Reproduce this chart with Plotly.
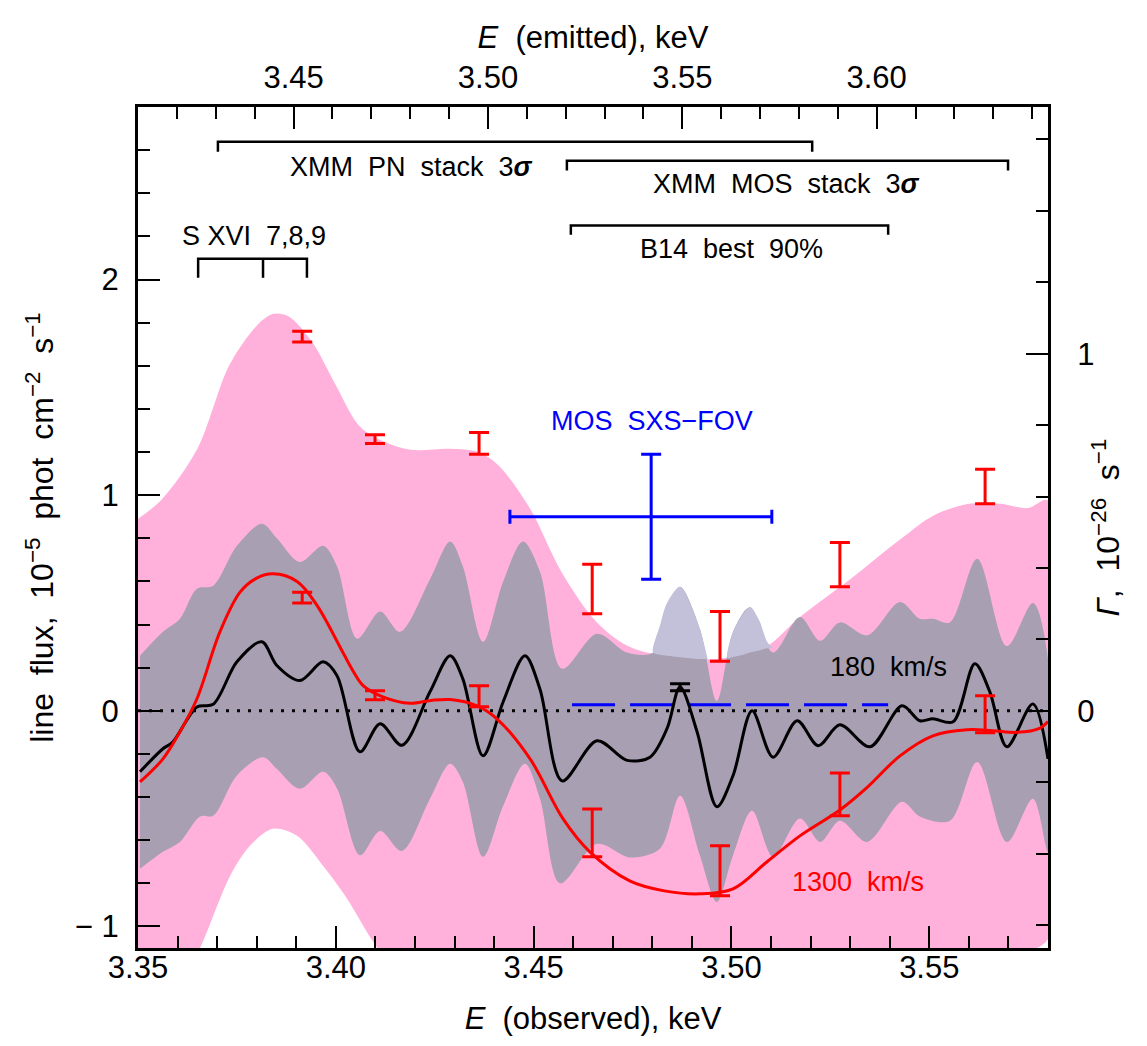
import plotly.graph_objects as go

Z1 = 1.0179          # (1+z): emitted = observed * Z1
GSCALE = 1.656       # flux units per Gamma unit (right axis)

# ---- 1300 km/s 3-sigma band (pink) ----
pink_hi_x = [3.350, 3.356, 3.365, 3.373, 3.380, 3.384, 3.388, 3.394, 3.400, 3.406, 3.412, 3.419,
             3.429, 3.436, 3.441, 3.449, 3.457, 3.466, 3.4751, 3.492, 3.500, 3.509, 3.517, 3.530,
             3.543, 3.551, 3.560, 3.568, 3.575, 3.580]
pink_hi_y = [0.89, 0.98, 1.215, 1.60, 1.786, 1.84, 1.83, 1.71, 1.51, 1.32, 1.25, 1.21,
             1.215, 1.20, 1.14, 0.94, 0.645, 0.41, 0.29, 0.24, 0.25, 0.30, 0.43, 0.61,
             0.80, 0.905, 0.96, 0.96, 0.94, 0.975]
pink_lo_x = [3.350, 3.362, 3.3657, 3.3733, 3.3783, 3.3841, 3.3902, 3.3968, 3.4028, 3.4094, 3.415,
             3.430, 3.460, 3.490, 3.520, 3.550, 3.570, 3.580]
pink_lo_y = [-1.55, -1.22, -1.10, -0.765, -0.626, -0.547, -0.58, -0.72, -0.87, -1.07, -1.2,
             -1.3, -1.6, -1.9, -1.6, -1.25, -1.13, -1.06]

# ---- 180 km/s band (grey) ----
grey_hi_x = [3.3505, 3.3563, 3.3606, 3.3649, 3.3690, 3.3750, 3.3813, 3.3851, 3.3909, 3.3968, 3.4003,
             3.4054, 3.4112, 3.4162, 3.4238, 3.4289, 3.4321, 3.4372, 3.4423, 3.4473, 3.4516, 3.4572,
             3.4660, 3.4736, 3.4802, 3.4837, 3.4870, 3.4920, 3.4963, 3.5004, 3.5047, 3.5105, 3.5173,
             3.5224, 3.5274, 3.5343, 3.5426, 3.5476, 3.5509, 3.5552, 3.5621, 3.5696, 3.5762, 3.5800]
grey_hi_y = [0.255, 0.366, 0.427, 0.566, 0.58, 0.765, 0.867, 0.80, 0.69, 0.765, 0.67,
             0.334, 0.46, 0.366, 0.61, 0.785, 0.67, 0.32, 0.60, 0.785, 0.645, 0.195,
             0.357, 0.27, 0.27, 0.45, 0.575, 0.38, 0.045, 0.366, 0.48, 0.27, 0.435,
             0.325, 0.41, 0.35, 0.505, 0.427, 0.427, 0.41, 0.705, 0.30, 0.50, 0.24]
grey_lo_x = [3.3505, 3.3563, 3.3606, 3.3657, 3.3690, 3.3750, 3.3816, 3.3851, 3.3909, 3.3968, 3.4003,
             3.4061, 3.4112, 3.4167, 3.4238, 3.4289, 3.4321, 3.4372, 3.4423, 3.4478, 3.4516, 3.4567,
             3.4660, 3.4744, 3.4819, 3.4870, 3.4920, 3.4963, 3.5004, 3.5052, 3.5105, 3.5173, 3.5224,
             3.5274, 3.5343, 3.5431, 3.5476, 3.5552, 3.5621, 3.5696, 3.5762, 3.5800]
grey_lo_y = [-0.733, -0.654, -0.608, -0.49, -0.487, -0.30, -0.215, -0.27, -0.362, -0.283, -0.36,
             -0.67, -0.557, -0.65, -0.408, -0.246, -0.33, -0.677, -0.44, -0.246, -0.408, -0.80,
             -0.617, -0.68, -0.64, -0.394, -0.67, -0.886, -0.67, -0.464, -0.677, -0.50, -0.608,
             -0.51, -0.608, -0.422, -0.49, -0.51, -0.237, -0.608, -0.408, -0.654]

# parts of the grey band that stick out above the pink band
lav1_x = [3.4802, 3.4820, 3.4837, 3.4870, 3.4895, 3.4920, 3.4940]
lav1_hi = [0.27, 0.40, 0.50, 0.575, 0.50, 0.38, 0.24]
lav1_lo = [0.27, 0.26, 0.255, 0.248, 0.244, 0.24, 0.24]
lav2_x = [3.4990, 3.5004, 3.5030, 3.5047, 3.5070, 3.5090, 3.5105]
lav2_hi = [0.245, 0.366, 0.45, 0.48, 0.42, 0.32, 0.29]
lav2_lo = [0.245, 0.25, 0.26, 0.27, 0.28, 0.29, 0.29]

# ---- best-fit line flux curves ----
black_x = [3.3505, 3.3563, 3.3588, 3.3649, 3.3690, 3.3750, 3.3813, 3.3851, 3.3909, 3.3968, 3.4003,
           3.4061, 3.4112, 3.4167, 3.4238, 3.4289, 3.4321, 3.4372, 3.4423, 3.4478, 3.4516, 3.4572,
           3.4660, 3.4736, 3.4794, 3.4837, 3.4870, 3.4913, 3.4963, 3.5004, 3.5052, 3.5105, 3.5166,
           3.5219, 3.5274, 3.5350, 3.5431, 3.5476, 3.5509, 3.5560, 3.5615, 3.5653, 3.5696, 3.5762,
           3.5800]
black_y = [-0.283, -0.176, -0.145, 0.018, 0.03, 0.227, 0.32, 0.21, 0.14, 0.227, 0.163,
           -0.19, -0.06, -0.16, 0.088, 0.255, 0.148, -0.209, 0.042, 0.255, 0.10, -0.325,
           -0.139, -0.23, -0.215, -0.083, 0.11, -0.097, -0.445, -0.30, 0.0, -0.215, -0.046,
           -0.162, -0.065, -0.167, 0.023, -0.046, -0.037, -0.051, 0.218, 0.088, -0.167, 0.032,
           -0.223]
red_x = [3.3505, 3.3563, 3.3606, 3.3649, 3.3707, 3.3758, 3.3800, 3.3841, 3.3902, 3.3952, 3.4018,
         3.4045, 3.4069, 3.4119, 3.4187, 3.4240, 3.4289, 3.4357, 3.4407, 3.4491, 3.4574, 3.4642,
         3.4744, 3.4830, 3.4920, 3.5004, 3.5090, 3.5173, 3.5274, 3.5343, 3.5426, 3.5509, 3.5595,
         3.5660, 3.5722, 3.5780, 3.5800]
red_y = [-0.33, -0.223, -0.097, 0.056, 0.366, 0.55, 0.615, 0.635, 0.60, 0.49, 0.27,
         0.18, 0.117, 0.065, 0.035, 0.048, 0.052, 0.023, -0.037, -0.223, -0.50, -0.654,
         -0.79, -0.835, -0.849, -0.826, -0.70, -0.58, -0.46, -0.355, -0.209, -0.116, -0.088,
         -0.092, -0.100, -0.080, -0.050]

# ---- error bars (low, high) ----
err_x = [3.3915, 3.4099, 3.4362, 3.4648, 3.4971, 3.5274, 3.5641]
red_up_lo = [1.71, 1.24, 1.19, 0.45, 0.23, 0.575, 0.96]
red_up_hi = [1.76, 1.28, 1.29, 0.68, 0.46, 0.78, 1.12]
red_dn_lo = [0.50, 0.051, 0.019, -0.677, -0.858, -0.487, -0.102]
red_dn_hi = [0.55, 0.093, 0.116, -0.455, -0.626, -0.288, 0.07]
blk_err_x = [3.4870]
blk_err_lo = [0.093]
blk_err_hi = [0.125]

# MOS SXS-FOV measurement
mos_x, mos_y = 3.4797, 0.90
mos_xerr_minus, mos_xerr_plus = 0.0357, 0.0305
mos_yerr = 0.29

# B14 best-fit line (blue dashed)
b14_x = [3.4597, 3.5396]
b14_y = [0.028, 0.028]

# ranges (observed energy)
pn_range = [3.3702, 3.5204]
mos_range = [3.4584, 3.5699]
b14_range = [3.4594, 3.5396]
sxvi_lines = [3.3652, 3.3816, 3.3927]

PINK = "#FFB1DB"
GREY = "#A89FB3"
LAV = "#C2C1D9"
FONT = "Liberation Sans"
NB = "\u00a0"

fig = go.Figure()

def band(xh, yh, xl, yl, color):
    fig.add_trace(go.Scatter(x=list(xh) + list(xl)[::-1], y=list(yh) + list(yl)[::-1],
                             fill="toself", fillcolor=color, mode="lines",
                             line=dict(width=0, color=color, shape="spline", smoothing=0.9),
                             hoverinfo="skip", showlegend=False))

band(pink_hi_x, pink_hi_y, pink_lo_x, pink_lo_y, PINK)
band(grey_hi_x, grey_hi_y, grey_lo_x, grey_lo_y, GREY)
band(lav1_x, lav1_hi, lav1_x, lav1_lo, LAV)
band(lav2_x, lav2_hi, lav2_x, lav2_lo, LAV)

# zero line
fig.add_trace(go.Scatter(x=[3.35, 3.58], y=[0, 0], mode="lines",
                         line=dict(color="black", width=3, dash="3px,8px"),
                         hoverinfo="skip", showlegend=False))
# B14 dashed
fig.add_trace(go.Scatter(x=b14_x, y=b14_y, mode="lines",
                         line=dict(color="#0000FF", width=3, dash="43px,15px"),
                         hoverinfo="skip", showlegend=False))

fig.add_trace(go.Scatter(x=black_x, y=black_y, mode="lines",
                         line=dict(color="black", width=3, shape="spline", smoothing=0.9),
                         hoverinfo="skip", showlegend=False))
fig.add_trace(go.Scatter(x=red_x, y=red_y, mode="lines",
                         line=dict(color="#FF0000", width=3, shape="spline", smoothing=1.0),
                         hoverinfo="skip", showlegend=False))

def errbars(xs, lo, hi, color, w=10):
    mid = [(a + b) / 2 for a, b in zip(lo, hi)]
    half = [(b - a) / 2 for a, b in zip(lo, hi)]
    fig.add_trace(go.Scatter(x=xs, y=mid, mode="markers", marker=dict(size=0.1, color=color, opacity=0),
                             error_y=dict(type="data", array=half, visible=True, color=color,
                                          thickness=3, width=w),
                             hoverinfo="skip", showlegend=False))

errbars(err_x, red_up_lo, red_up_hi, "#FF0000")
errbars(err_x, red_dn_lo, red_dn_hi, "#FF0000")
errbars(blk_err_x, blk_err_lo, blk_err_hi, "black")

fig.add_trace(go.Scatter(x=[mos_x], y=[mos_y], mode="markers",
                         marker=dict(size=0.1, color="#0000FF", opacity=0),
                         error_x=dict(type="data", symmetric=False, array=[mos_xerr_plus],
                                      arrayminus=[mos_xerr_minus], color="#0000FF", thickness=3, width=7),
                         error_y=dict(type="data", array=[mos_yerr], color="#0000FF", thickness=3, width=10),
                         hoverinfo="skip", showlegend=False))

# brackets
def bracket(a, b, ytop, ybot):
    fig.add_trace(go.Scatter(x=[a, a, b, b], y=[ybot, ytop, ytop, ybot], mode="lines",
                             line=dict(color="black", width=2.5), hoverinfo="skip", showlegend=False))

bracket(pn_range[0], pn_range[1], 2.639, 2.593)
bracket(mos_range[0], mos_range[1], 2.551, 2.505)
bracket(b14_range[0], b14_range[1], 2.250, 2.208)
bracket(sxvi_lines[0], sxvi_lines[-1], 2.096, 2.008)
fig.add_trace(go.Scatter(x=[sxvi_lines[1], sxvi_lines[1]], y=[2.096, 2.008], mode="lines",
                         line=dict(color="black", width=2.5), hoverinfo="skip", showlegend=False))

# dummy trace for secondary axes
fig.add_trace(go.Scatter(x=[3.45], y=[None], xaxis="x2", yaxis="y2", showlegend=False))

def txt(x, y, s, color="black", size=27):
    fig.add_annotation(x=x, y=y, text=s, showarrow=False, xref="x", yref="y",
                       font=dict(family=FONT, size=size, color=color))

txt(3.4190, 2.523, "XMM  PN  stack  3<b><i>σ</i></b>")
txt(3.5140, 2.444, "XMM  MOS  stack  3<b><i>σ</i></b>")
txt(3.4999, 2.143, "B14  best  90%")
txt(3.3793, 2.203, "S XVI  7,8,9")
txt(3.4799, 1.345, "MOS  SXS−FOV", color="#0000FF")
txt(3.5398, 0.204, "180  km/s")
txt(3.5320, -0.793, "1300  km/s", color="#FF0000")

tickfont = dict(family=FONT, size=31, color="black")
titlefont = dict(family=FONT, size=31, color="black")
sidefont = dict(family=FONT, size=32, color="black")
common = dict(showgrid=False, zeroline=False, showline=True, linecolor="black", linewidth=3,
              ticks="inside", tickcolor="black", tickwidth=2, ticklen=22, tickfont=tickfont)
mnr = dict(ticks="inside", ticklen=12, tickwidth=2, tickcolor="black")

ytitle = NB.join(["line", " flux,", " 10<sup>−5</sup>", " phot", " cm<sup>−2</sup>", " s<sup>−1</sup>"])
y2title = "<i>Γ</i>," + NB + " 10<sup>−26</sup>" + NB + " s<sup>−1</sup>"

fig.update_layout(
    width=1147, height=1046,
    margin=dict(l=138, r=99, t=107, b=98),
    paper_bgcolor="white", plot_bgcolor="white",
    showlegend=False,
    xaxis=dict(range=[3.35, 3.58], tick0=3.35, dtick=0.05, tickformat=".2f",
               minor=dict(dtick=0.01, tick0=3.35, **mnr),
               title=dict(text="<i>E</i>  (observed), keV", font=titlefont, standoff=24),
               ticklabelstandoff=-10, **common),
    xaxis2=dict(range=[3.35 * Z1, 3.58 * Z1], overlaying="x", side="top", anchor="y",
                tick0=3.40, dtick=0.05, tickformat=".2f",
                minor=dict(dtick=0.01, tick0=3.40, **mnr),
                title=dict(text="<i>E</i>  (emitted), keV", font=titlefont, standoff=2),
                ticklabelstandoff=4, **common),
    yaxis=dict(range=[-1.1, 2.8], tickvals=[-1, 0, 1, 2], ticktext=["− 1", "0", "1", "2"],
               minor=dict(dtick=0.2, tick0=0, **mnr),
               title=dict(text=ytitle, font=sidefont, standoff=12),
               ticklabelstandoff=10, **common),
    yaxis2=dict(range=[-1.1 / GSCALE, 2.8 / GSCALE], overlaying="y", side="right", anchor="x",
                tickvals=[0, 1],
                minor=dict(dtick=0.2, tick0=0, **mnr),
                title=dict(text=y2title, font=sidefont, standoff=4),
                ticklabelstandoff=20, **common),
)

fig.write_html("out.html", config={"displayModeBar": False},
               post_script="document.body.style.margin='0px';document.body.style.overflow='hidden';")
